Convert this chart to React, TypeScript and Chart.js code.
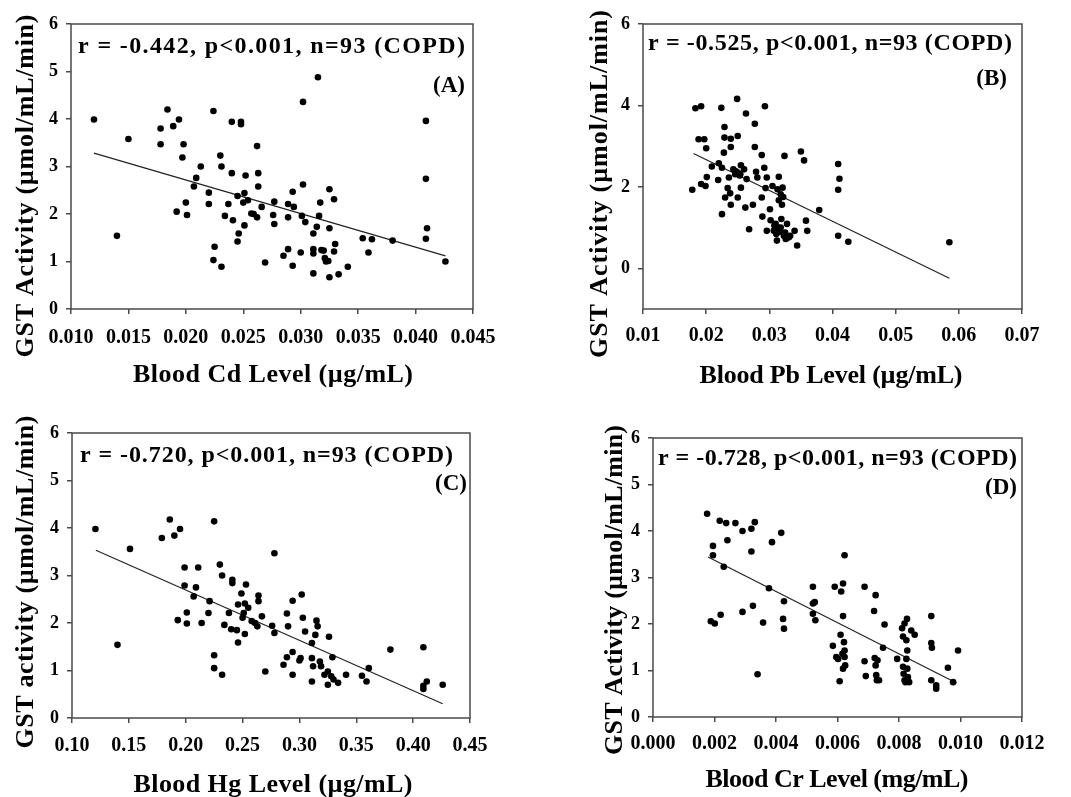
import React, { useEffect, useRef } from 'react';
import { Chart, registerables } from 'chart.js';
Chart.register(...registerables);

const SERIF = '"Liberation Serif", "Times New Roman", serif';

// ---------- Data ----------
// (A) Blood Cd level (µg/mL) vs GST activity
const cdLevel = [0.0120,0.0140,0.0150,0.0178,0.0178,0.0184,0.0189,0.0194,0.0192,0.0198,
  0.0197,0.0200,0.0201,0.0207,0.0209,0.0213,0.0220,0.0220,0.0224,0.0225,
  0.0224,0.0231,0.0230,0.0231,0.0234,0.0237,0.0240,0.0240,0.0241,0.0245,
  0.0246,0.0245,0.0248,0.0248,0.0251,0.0252,0.0250,0.0251,0.0254,0.0257,
  0.0262,0.0263,0.0263,0.0262,0.0266,0.0269,0.0277,0.0276,0.0277,0.0285,
  0.0289,0.0289,0.0289,0.0293,0.0294,0.0293,0.0300,0.0302,0.0302,0.0301,
  0.0304,0.0311,0.0311,0.0311,0.0311,0.0314,0.0315,0.0316,0.0317,0.0318,
  0.0321,0.0322,0.0324,0.0325,0.0325,0.0325,0.0329,0.0330,0.0329,0.0333,
  0.0341,0.0354,0.0359,0.0362,0.0380,0.0409,0.0409,0.0410,0.0409,0.0426,
  0.0320,0.0259];
const gstA = [3.99,1.54,3.58,3.47,3.80,4.20,3.85,3.99,2.05,3.47,
  3.19,2.24,1.98,2.58,2.76,3.00,2.45,2.21,4.17,1.31,
  1.03,0.89,3.23,3.00,1.96,2.21,2.86,3.94,1.87,2.38,
  1.59,1.42,3.94,3.89,2.44,2.81,2.24,1.76,2.29,2.01,
  3.43,2.86,2.58,1.93,2.15,0.98,2.26,1.98,1.79,1.12,
  1.26,2.21,1.93,2.47,2.15,0.91,1.19,2.62,4.36,1.96,
  1.83,1.59,1.26,1.17,0.75,1.73,4.88,1.96,2.24,1.24,
  1.07,1.00,1.01,1.70,2.52,0.67,2.31,1.37,1.21,0.73,
  0.89,1.49,1.19,1.47,1.44,3.96,2.74,1.70,1.48,1.00,
  1.23,2.00];
const fitXA = [0.0120, 0.0426];
const fitYA = [3.28, 1.12];
const xTicksA = [0.010, 0.015, 0.020, 0.025, 0.030, 0.035, 0.040, 0.045];
const yTicksA = [0, 1, 2, 3, 4, 5, 6];

// (B) Blood Pb level (µg/mL) vs GST activity
const pbLevel = [0.0178,0.0183,0.0192,0.0188,0.0197,0.0200,0.0192,0.0199,0.0201,0.0209,
  0.0220,0.0224,0.0225,0.0219,0.0225,0.0229,0.0228,0.0229,0.0230,0.0234,
  0.0236,0.0238,0.0239,0.0239,0.0239,0.0243,0.0246,0.0249,0.0250,0.0250,
  0.0250,0.0254,0.0255,0.0255,0.0260,0.0263,0.0262,0.0264,0.0268,0.0274,
  0.0277,0.0277,0.0279,0.0281,0.0288,0.0288,0.0289,0.0292,0.0293,0.0294,
  0.0296,0.0296,0.0301,0.0302,0.0305,0.0307,0.0310,0.0311,0.0312,0.0313,
  0.0315,0.0315,0.0318,0.0318,0.0319,0.0320,0.0321,0.0323,0.0324,0.0325,
  0.0328,0.0331,0.0333,0.0340,0.0344,0.0350,0.0355,0.0358,0.0360,0.0379,
  0.0409,0.0411,0.0409,0.0409,0.0425,0.0585,
  0.0314,0.0316,0.0322,0.0308,0.0326,0.0247,0.0253];
const gstB = [1.93,3.93,3.98,3.17,3.17,2.95,2.07,2.02,2.24,2.50,
  2.58,3.94,2.47,2.17,1.33,3.47,2.84,3.21,1.74,1.97,
  2.23,1.84,3.18,2.98,1.56,2.43,2.31,4.16,3.25,2.35,
  1.74,2.31,2.53,1.98,2.43,3.80,1.49,2.19,0.96,1.56,
  2.98,3.55,2.37,2.23,2.78,1.74,1.27,2.47,3.98,1.97,
  2.23,0.92,1.45,1.18,2.02,0.92,1.09,0.84,0.68,1.94,
  2.25,1.67,1.82,1.00,1.21,1.56,1.98,0.80,2.76,0.88,
  1.09,0.76,0.80,0.92,0.56,2.87,2.65,1.17,0.92,1.43,
  2.56,2.20,1.93,0.80,0.65,0.64,
  1.00,0.90,1.75,1.05,0.72,2.38,2.28];
const fitXB = [0.0180, 0.0585];
const fitYB = [2.82, -0.245];
const xTicksB = [0.01, 0.02, 0.03, 0.04, 0.05, 0.06, 0.07];
const yTicksB = [0, 2, 4, 6];

// (C) Blood Hg level (µg/mL) vs GST activity
const hgLevel = [0.1206,0.140,0.151,0.179,0.186,0.190,0.195,0.193,0.199,0.199,
  0.201,0.201,0.207,0.209,0.211,0.214,0.221,0.220,0.225,0.225,
  0.225,0.232,0.230,0.232,0.234,0.238,0.241,0.241,0.240,0.246,
  0.246,0.245,0.249,0.250,0.253,0.252,0.252,0.255,0.251,0.258,
  0.261,0.264,0.264,0.263,0.267,0.270,0.278,0.276,0.278,0.286,
  0.289,0.289,0.290,0.294,0.294,0.294,0.300,0.301,0.302,0.303,
  0.305,0.311,0.311,0.312,0.311,0.314,0.315,0.316,0.318,0.319,
  0.322,0.325,0.325,0.326,0.329,0.328,0.330,0.334,0.341,0.355,
  0.359,0.361,0.380,0.409,0.409,0.409,0.412,0.426];
const gstC = [3.98,1.54,3.56,3.79,4.18,3.84,3.98,2.06,3.17,2.79,
  2.22,1.99,2.56,2.75,3.17,2.00,2.46,2.21,4.14,1.32,
  1.05,0.91,3.23,3.00,1.96,2.21,2.91,2.84,1.87,2.39,
  1.59,1.85,2.62,2.11,2.81,2.41,1.77,2.32,2.21,2.04,
  2.00,2.46,2.58,1.93,2.14,0.98,3.47,1.94,1.79,1.12,
  1.28,2.20,1.93,2.47,1.39,0.91,1.21,1.26,2.60,2.11,
  1.82,1.58,1.26,1.09,0.77,1.75,2.05,1.93,1.19,1.09,
  0.91,0.70,0.98,1.71,1.28,0.88,0.81,0.74,0.91,0.89,
  0.77,1.05,1.44,1.49,0.68,0.61,0.77,0.70];
const fitXC = [0.121, 0.426];
const fitYC = [3.53, 0.30];
const xTicksC = [0.10, 0.15, 0.20, 0.25, 0.30, 0.35, 0.40, 0.45];
const yTicksC = [0, 1, 2, 3, 4, 5, 6];

// (D) Blood Cr level (mg/mL) vs GST activity
const crLevel = [0.00176,0.00195,0.00195,0.00188,0.00201,0.00217,0.00220,0.00230,0.00238,0.00242,
  0.00268,0.00291,0.00291,0.00320,0.00320,0.00325,0.00331,0.00340,0.00358,0.00377,
  0.00387,0.00417,0.00426,0.00423,0.00426,0.00520,0.00520,0.00526,0.00520,0.00528,
  0.00585,0.00591,0.00596,0.00602,0.00607,0.00610,0.00612,0.00618,0.00618,0.00616,
  0.00623,0.00621,0.00623,0.00623,0.00618,0.00625,0.00688,0.00688,0.00692,0.00719,
  0.00724,0.00721,0.00724,0.00726,0.00728,0.00735,0.00730,0.00753,0.00748,0.00794,
  0.00810,0.00813,0.00818,0.00826,0.00824,0.00827,0.00813,0.00815,0.00818,0.00824,
  0.00827,0.00829,0.00833,0.00821,0.00840,0.00851,0.00905,0.00905,0.00907,0.00905,
  0.00921,0.00921,0.00959,0.00976,0.00992];
const gstD = [4.37,3.68,3.48,2.06,2.01,4.22,2.20,3.23,4.17,3.80,
  4.17,4.00,2.26,4.05,3.56,2.39,4.19,0.92,2.03,2.77,
  3.76,3.96,2.49,2.11,1.90,2.80,2.44,2.47,2.22,2.08,
  1.53,2.80,1.29,1.25,0.77,1.77,2.70,2.87,2.17,1.36,
  3.48,1.61,1.43,1.29,1.04,1.11,2.80,1.20,0.88,2.28,
  2.62,1.27,1.11,0.90,0.79,0.79,1.22,1.99,1.49,1.25,
  1.91,1.73,2.01,2.11,1.65,1.43,1.08,0.93,0.79,1.25,
  1.04,0.86,0.75,0.75,1.86,1.77,2.17,1.59,1.49,0.79,
  0.68,0.61,1.06,0.75,1.43];
const fitXD = [0.00179, 0.00987];
const fitYD = [3.44, 0.73];
const xTicksD = [0.000, 0.002, 0.004, 0.006, 0.008, 0.010, 0.012];
const yTicksD = [0, 1, 2, 3, 4, 5, 6];

// ---------- Panel definitions (data refs + text) ----------
type Layout = {
  box: { left: number; top: number; w: number; h: number };
  area: { l: number; t: number; r: number; b: number };
  ann: { x0: number; x1: number; by: number };
  tag: { r: number; by: number };
  yTitle: { bx: number; cy: number; len: number };
  xTitle: { cx: number; by: number; len: number };
  xPad: number;
};

const panels = [
  {
    x: cdLevel, y: gstA, fitX: fitXA, fitY: fitYA, xTicks: xTicksA, yTicks: yTicksA,
    xMin: 0.010, xMax: 0.045, yMin: 0, yMax: 6, xDec: 3,
    ann: 'r = -0.442, p<0.001, n=93 (COPD)', tag: '(A)',
    yTitle: 'GST Activity (µmol/mL/min)', xTitle: 'Blood Cd Level (µg/mL)',
    layout: {
      box: { left: 0, top: 0, w: 530, h: 400 },
      area: { l: 71, t: 24, r: 473, b: 309 },
      ann: { x0: 78, x1: 465, by: 53 },
      tag: { r: 465, by: 92 },
      yTitle: { bx: 33, cy: 186, len: 343 },
      xTitle: { cx: 273, by: 382, len: 280 },
      xPad: 12,
    } as Layout,
  },
  {
    x: pbLevel, y: gstB, fitX: fitXB, fitY: fitYB, xTicks: xTicksB, yTicks: yTicksB,
    xMin: 0.01, xMax: 0.07, yMin: -1, yMax: 6, xDec: 2,
    ann: 'r = -0.525, p<0.001, n=93 (COPD)', tag: '(B)',
    yTitle: 'GST Activity (µmol/mL/min)', xTitle: 'Blood Pb Level (µg/mL)',
    layout: {
      box: { left: 530, top: 0, w: 541, h: 400 },
      area: { l: 113, t: 24, r: 492, b: 309 },
      ann: { x0: 118, x1: 482, by: 50 },
      tag: { r: 477, by: 85 },
      yTitle: { bx: 77, cy: 184, len: 348 },
      xTitle: { cx: 301, by: 383, len: 263 },
      xPad: 10,
    } as Layout,
  },
  {
    x: hgLevel, y: gstC, fitX: fitXC, fitY: fitYC, xTicks: xTicksC, yTicks: yTicksC,
    xMin: 0.10, xMax: 0.45, yMin: 0, yMax: 6, xDec: 2,
    ann: 'r = -0.720, p<0.001, n=93 (COPD)', tag: '(C)',
    yTitle: 'GST activity (µmol/mL/min)', xTitle: 'Blood Hg Level (µg/mL)',
    layout: {
      box: { left: 0, top: 400, w: 530, h: 397 },
      area: { l: 72, t: 33, r: 470, b: 318 },
      ann: { x0: 80, x1: 453, by: 62 },
      tag: { r: 467, by: 90 },
      yTitle: { bx: 33, cy: 182, len: 333 },
      xTitle: { cx: 273, by: 392, len: 279 },
      xPad: 11,
    } as Layout,
  },
  {
    x: crLevel, y: gstD, fitX: fitXD, fitY: fitYD, xTicks: xTicksD, yTicks: yTicksD,
    xMin: 0.000, xMax: 0.012, yMin: 0, yMax: 6, xDec: 3,
    ann: 'r = -0.728, p<0.001, n=93 (COPD)', tag: '(D)',
    yTitle: 'GST Activity (µmol/mL/min)', xTitle: 'Blood Cr Level (mg/mL)',
    layout: {
      box: { left: 530, top: 400, w: 541, h: 397 },
      area: { l: 123, t: 38, r: 492, b: 317 },
      ann: { x0: 128, x1: 487, by: 65 },
      tag: { r: 487, by: 94 },
      yTitle: { bx: 92, cy: 190, len: 330 },
      xTitle: { cx: 307, by: 387, len: 263 },
      xPad: 10,
    } as Layout,
  },
];

function drawSpaced(ctx: CanvasRenderingContext2D, text: string, x: number, y: number, span: number, font: string) {
  ctx.font = font;
  const chars = Array.from(text);
  const widths = chars.map((ch) => ctx.measureText(ch).width);
  const natural = widths.reduce((a, b) => a + b, 0);
  const gap = chars.length > 1 ? (span - natural) / (chars.length - 1) : 0;
  let cx = x;
  chars.forEach((ch, i) => {
    ctx.fillText(ch, cx, y);
    cx += widths[i] + gap;
  });
}

function Panel({ p }: { p: (typeof panels)[number] }) {
  const ref = useRef<HTMLCanvasElement>(null);
  useEffect(() => {
    const L = p.layout;
    const decor = {
      id: 'decor',
      afterDraw(chart: any) {
        const ctx: CanvasRenderingContext2D = chart.ctx;
        const a = chart.chartArea;
        ctx.save();
        ctx.strokeStyle = '#4a4a4a';
        ctx.lineWidth = 1.5;
        ctx.strokeRect(a.left, a.top, a.right - a.left, a.bottom - a.top);
        ctx.fillStyle = '#000';
        ctx.textAlign = 'left';
        ctx.textBaseline = 'alphabetic';
        // annotation
        drawSpaced(ctx, p.ann, L.ann.x0, L.ann.by, L.ann.x1 - L.ann.x0, `bold 24px ${SERIF}`);
        // tag
        ctx.font = `bold 23px ${SERIF}`;
        ctx.textAlign = 'right';
        ctx.fillText(p.tag, L.tag.r, L.tag.by);
        ctx.textAlign = 'left';
        // x title
        drawSpaced(ctx, p.xTitle, L.xTitle.cx - L.xTitle.len / 2, L.xTitle.by, L.xTitle.len, `bold 26px ${SERIF}`);
        // y title
        ctx.translate(L.yTitle.bx, L.yTitle.cy);
        ctx.rotate(-Math.PI / 2);
        drawSpaced(ctx, p.yTitle, -L.yTitle.len / 2, 0, L.yTitle.len, `bold 26px ${SERIF}`);
        ctx.restore();
      },
    };
    const chart = new Chart(ref.current as HTMLCanvasElement, {
      type: 'scatter',
      data: {
        datasets: [
          {
            data: p.x.map((v, i) => ({ x: v, y: p.y[i] })),
            pointRadius: 3.3,
            pointHoverRadius: 3.3,
            backgroundColor: '#000',
            borderWidth: 0,
            order: 1,
          },
          {
            data: p.fitX.map((v, i) => ({ x: v, y: p.fitY[i] })),
            showLine: true,
            borderColor: '#222',
            borderWidth: 1.2,
            pointRadius: 0,
            pointHoverRadius: 0,
            fill: false,
            order: 2,
          },
        ],
      },
      options: {
        responsive: false,
        animation: false,
        events: [],
        layout: { padding: { left: 0, top: L.area.t, right: L.box.w - L.area.r, bottom: 0 } },
        plugins: { legend: { display: false }, tooltip: { enabled: false }, title: { display: false } },
        scales: {
          x: {
            type: 'linear',
            min: p.xMin,
            max: p.xMax,
            afterBuildTicks: (s: any) => {
              s.ticks = p.xTicks.map((v) => ({ value: v }));
            },
            afterFit: (s: any) => {
              s.height = L.box.h - L.area.b;
              s.paddingLeft = 0;
              s.paddingRight = 0;
            },
            ticks: {
              autoSkip: false,
              maxRotation: 0,
              minRotation: 0,
              padding: L.xPad,
              color: '#000',
              font: { family: SERIF, size: 20, weight: 'bold' },
              callback: (v: any) => Number(v).toFixed(p.xDec),
            },
            grid: { drawOnChartArea: false, drawTicks: true, tickLength: 5, color: '#4a4a4a', lineWidth: 1.5 },
            border: { display: false },
            title: { display: false },
          },
          y: {
            type: 'linear',
            min: p.yMin,
            max: p.yMax,
            afterBuildTicks: (s: any) => {
              s.ticks = p.yTicks.map((v) => ({ value: v }));
            },
            afterFit: (s: any) => {
              s.width = L.area.l;
              s.paddingTop = 0;
              s.paddingBottom = 0;
            },
            ticks: {
              autoSkip: false,
              padding: 8,
              color: '#000',
              font: { family: SERIF, size: 18, weight: 'bold' },
              callback: (v: any) => String(v),
            },
            grid: { drawOnChartArea: false, drawTicks: true, tickLength: 5, color: '#4a4a4a', lineWidth: 1.5 },
            border: { display: false },
            title: { display: false },
          },
        },
      } as any,
      plugins: [decor],
    });
    return () => chart.destroy();
  }, [p]);
  const L = p.layout;
  return (
    <canvas
      ref={ref}
      width={L.box.w}
      height={L.box.h}
      style={{ position: 'absolute', left: L.box.left, top: L.box.top, width: L.box.w, height: L.box.h }}
    />
  );
}

export default function App() {
  return (
    <div style={{ position: 'absolute', left: 0, top: 0, width: 1071, height: 797, background: '#fff', overflow: 'hidden' }}>
      {panels.map((p, i) => (
        <Panel key={i} p={p} />
      ))}
    </div>
  );
}
